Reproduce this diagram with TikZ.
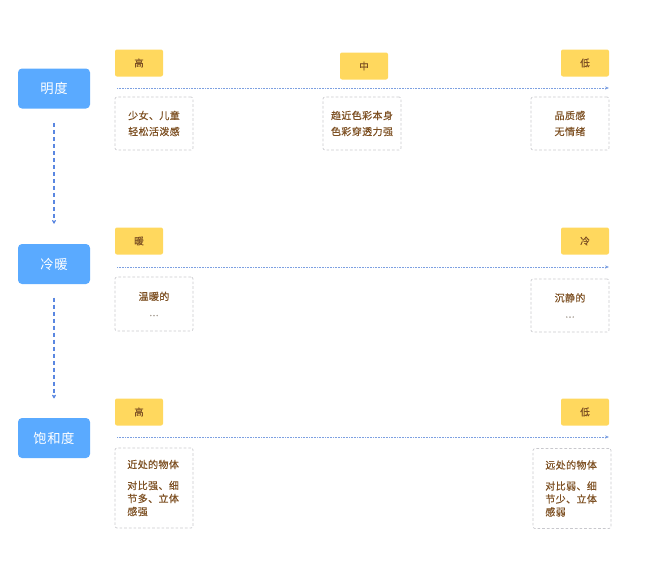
\documentclass[tikz,border=0pt]{standalone}
\usepackage{fontspec}
\setmainfont{Noto Sans CJK SC}
\usetikzlibrary{arrows.meta}
\definecolor{keyblue}{RGB}{90,170,255}
\definecolor{tagyellow}{RGB}{255,216,94}
\definecolor{notebrown}{RGB}{125,80,35}
\definecolor{dotgray}{RGB}{160,150,140}
\definecolor{framegray}{RGB}{200,200,205}
\definecolor{axisblue}{RGB}{125,160,225}
\definecolor{linkblue}{RGB}{90,135,225}

\begin{document}
\begin{tikzpicture}[x=0.75pt,y=0.75pt,yscale=-1,xscale=1,
		keybox/.style={fill=keyblue,rounded corners=3pt,minimum width=54pt,minimum height=30pt,inner sep=0pt,text=white,font=\fontsize{10}{12}\selectfont\addfontfeature{LetterSpace=4}},
		tagbox/.style={fill=tagyellow,rounded corners=1.5pt,minimum width=36pt,minimum height=20.25pt,inner sep=0pt,text=notebrown,font=\fontsize{7.2}{9}\selectfont\addfontfeature{FakeBold=0.4}},
		notebox/.style={draw=framegray,dash pattern=on 2pt off 1.5pt,line width=0.5pt,rounded corners=1.5pt,minimum width=58.5pt,inner sep=0pt,text=notebrown,align=center,font=\fontsize{7.5}{12}\selectfont\addfontfeature{LetterSpace=4,FakeBold=0.4}},
		axisline/.style={draw=axisblue,line width=0.5pt,dash pattern=on 0.6pt off 0.6pt,-{Stealth[length=3pt,width=2.4pt]}},
		linkline/.style={draw=linkblue,line width=1.1pt,dash pattern=on 3pt off 2.25pt,-{Stealth[length=3.5pt,width=3.8pt,round]}}
	]
	%set diagram left start at 0, and has height of 578
	\useasboundingbox (0,0) rectangle (650,578);
	
	%Shape: Rectangle [key boxes]
	\node [keybox] (mingdu) at (54,88.5) {明度};
	\node [keybox] (lengnuan) at (54,264) {冷暖};
	\node [keybox] (baohedu) at (54,438) {饱和度};
	
	%Straight Lines [between key boxes]
	\draw [linkline,shorten <=10.5pt,shorten >=15pt] (mingdu) -- (lengnuan);
	\draw [linkline,shorten <=10pt,shorten >=14.5pt] (lengnuan) -- (baohedu);
	
	%Row: 明度
	\node [tagbox] (mdHigh) at (139,63) {高};
	\node [tagbox] (mdMid) at (364,66) {中};
	\node [tagbox] (mdLow) at (585,63) {低};
	\coordinate (mdAxisL) at (117,88);
	\coordinate (mdAxisR) at (609,88);
	\draw [axisline] (mdAxisL) -- (mdAxisR);
	% Text Node
	\node [notebox,minimum height=39.75pt] (mdNoteHigh) at (154,123.5) {少女、儿童\\轻松活泼感};
	% Text Node
	\node [notebox,minimum height=39.75pt] (mdNoteMid) at (362,123.5) {趋近色彩本身\\色彩穿透力强};
	% Text Node
	\node [notebox,minimum height=39.75pt] (mdNoteLow) at (570,123.5) {品质感\\无情绪};
	
	%Row: 冷暖
	\node [tagbox] (lnWarm) at (139,241) {暖};
	\node [tagbox] (lnCold) at (585,241) {冷};
	\coordinate (lnAxisL) at (117,267);
	\coordinate (lnAxisR) at (609,267);
	\draw [axisline] (lnAxisL) -- (lnAxisR);
	% Text Node
	\node [notebox,minimum height=40.5pt] (lnNoteWarm) at (154,304) {温暖的\\\textcolor{dotgray}{...}};
	% Text Node
	\node [notebox,minimum height=39.75pt] (lnNoteCold) at (570,305.5) {沉静的\\\textcolor{dotgray}{...}};
	
	%Row: 饱和度
	\node [tagbox] (bhHigh) at (139,412) {高};
	\node [tagbox] (bhLow) at (585,412) {低};
	\coordinate (bhAxisL) at (117,437);
	\coordinate (bhAxisR) at (609,437);
	\draw [axisline] (bhAxisL) -- (bhAxisR);
	% Text Node
	\node [notebox,minimum height=60pt,text width=40pt,align=left,font=\fontsize{7.5}{9.75}\selectfont\addfontfeature{LetterSpace=4,FakeBold=0.4}] (bhNoteHigh) at (154,488) {近处的物体\\[6pt]对比强、细\\节多、立体\\感强};
	% Text Node
	\node [notebox,minimum height=60pt,text width=40pt,align=left,font=\fontsize{7.5}{9.75}\selectfont\addfontfeature{LetterSpace=4,FakeBold=0.4}] (bhNoteLow) at (572,488.5) {远处的物体\\[6pt]对比弱、细\\节少、立体\\感弱};
	
\end{tikzpicture}
\end{document}
